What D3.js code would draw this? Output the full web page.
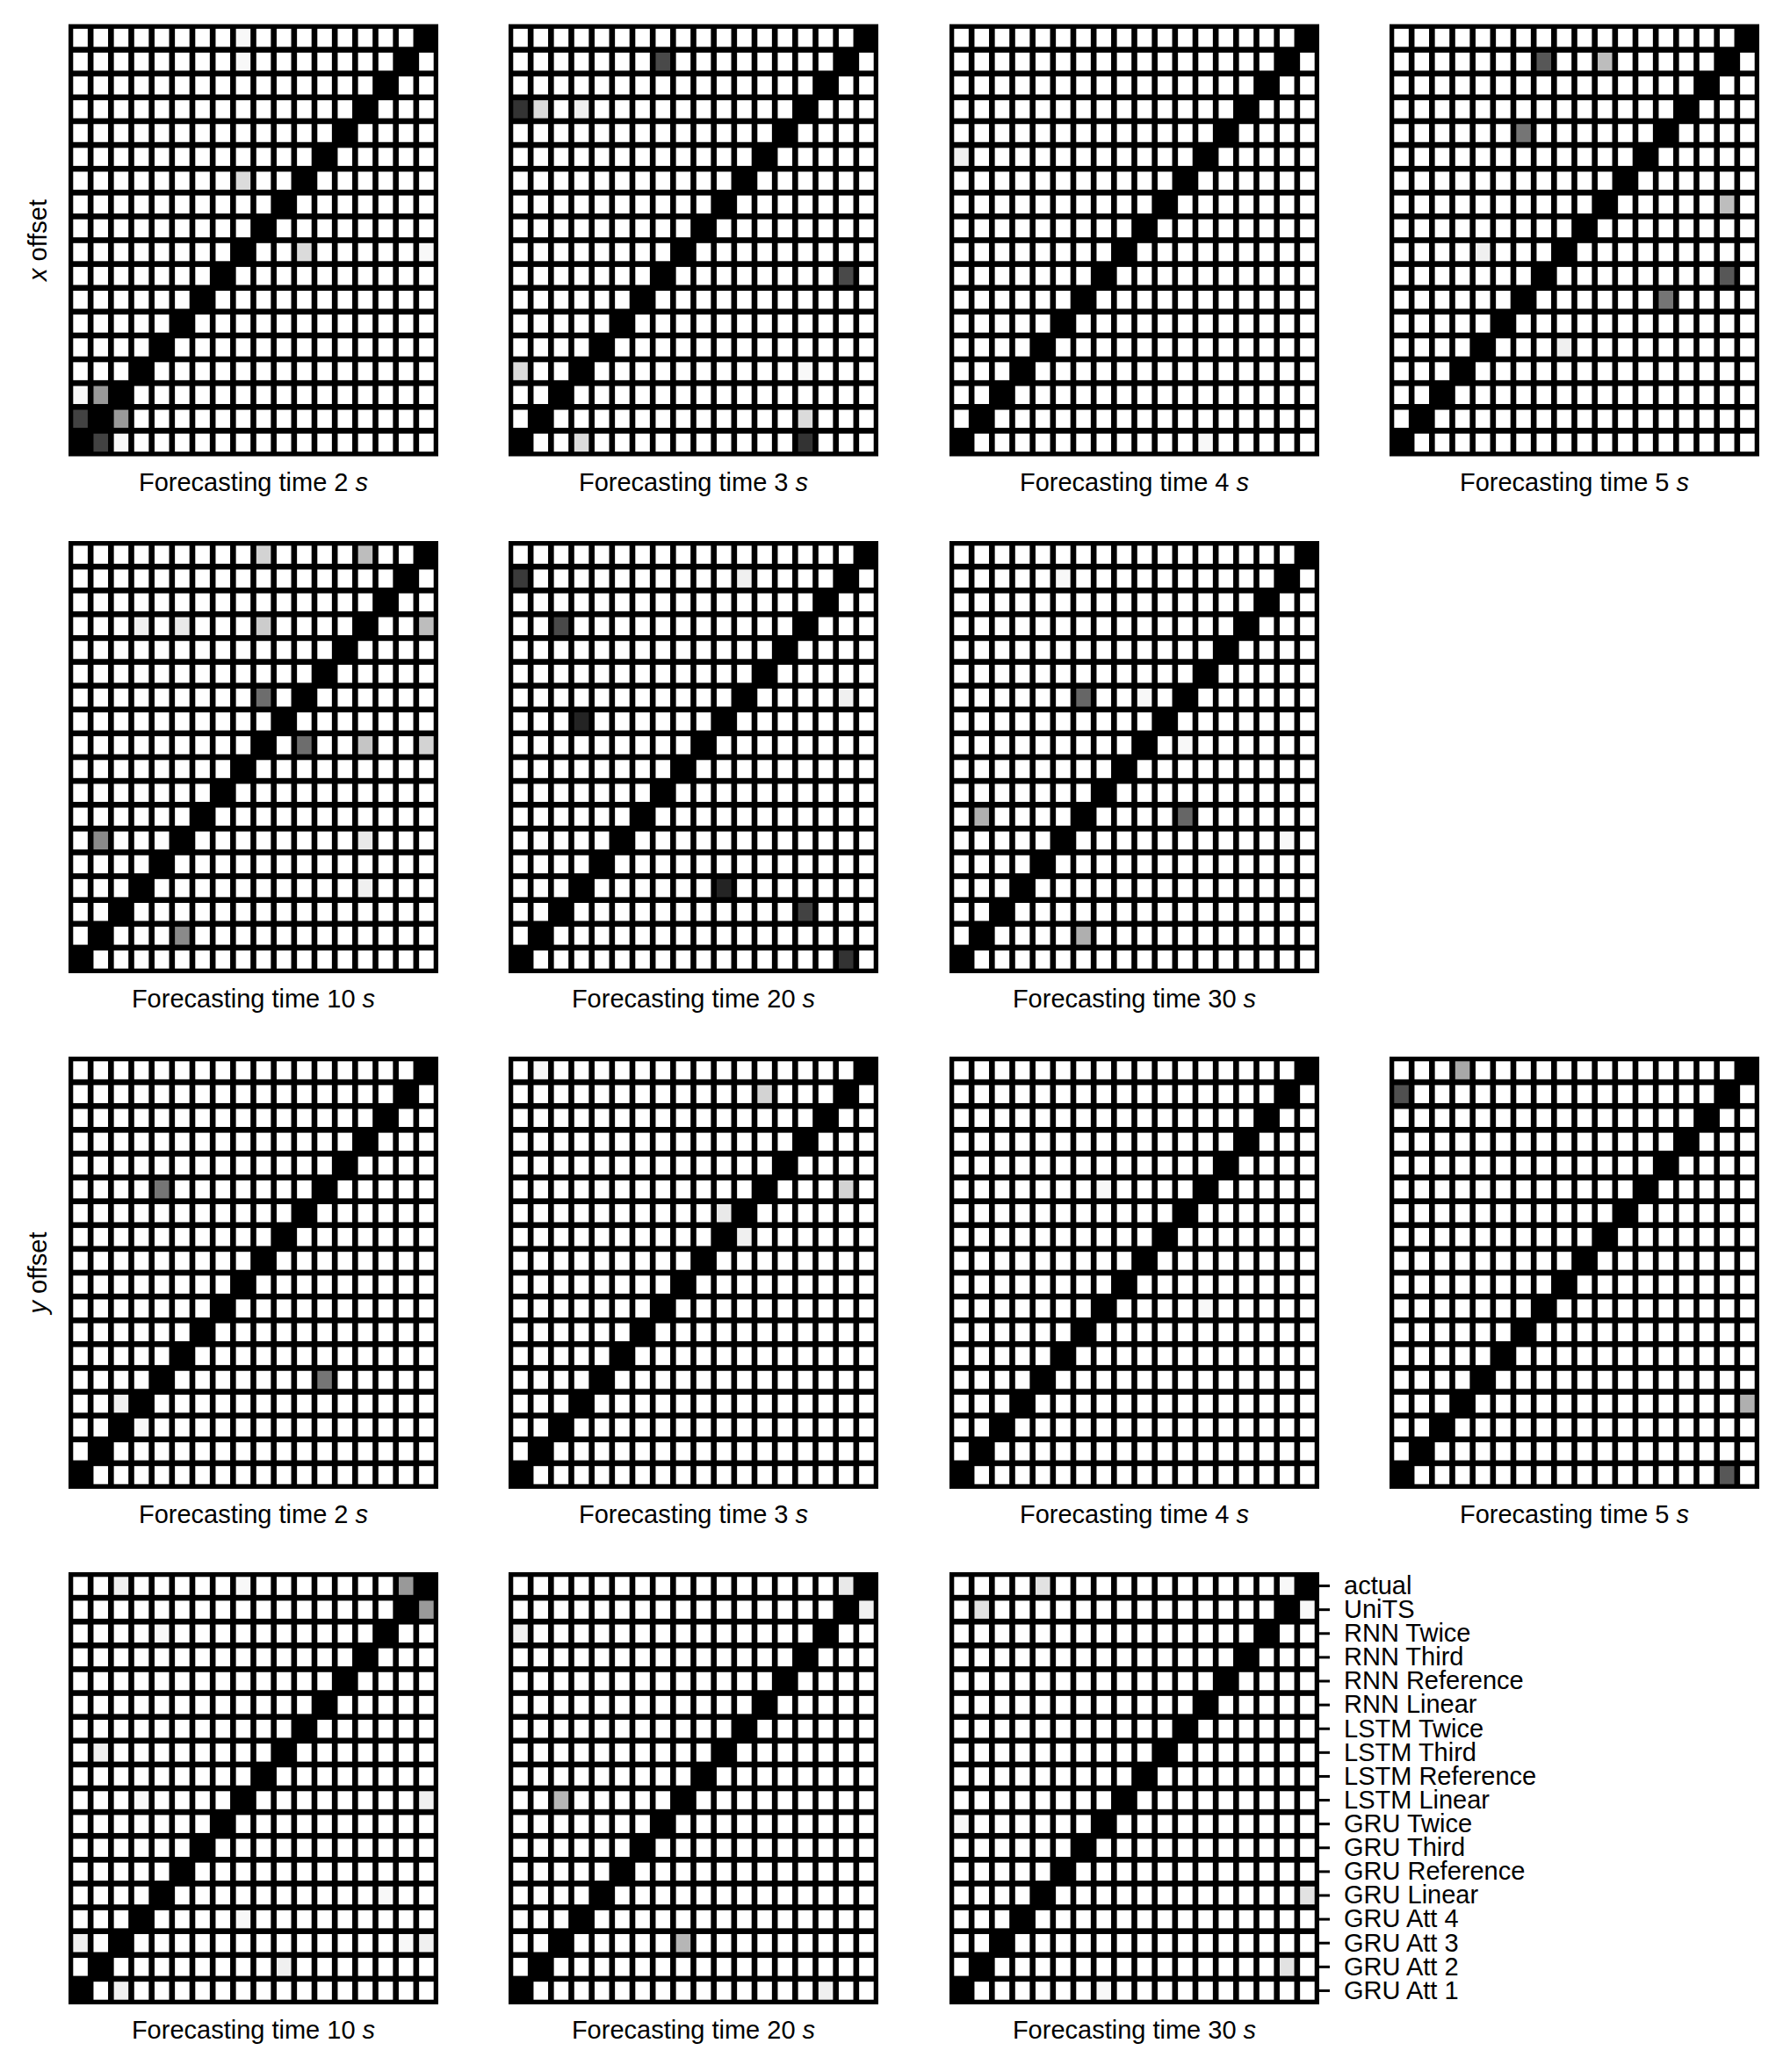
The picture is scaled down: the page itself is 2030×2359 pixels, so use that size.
<!DOCTYPE html>
<html><head><meta charset="utf-8">
<script src="https://cdn.jsdelivr.net/npm/d3@7"></script>
<style>html,body{margin:0;padding:0;background:#fff;} svg{display:block;}</style>
</head><body>
<script>
// Row labels (models), top to bottom
const modelLabels = ["actual","UniTS","RNN Twice","RNN Third","RNN Reference","RNN Linear",
  "LSTM Twice","LSTM Third","LSTM Reference","LSTM Linear","GRU Twice","GRU Third",
  "GRU Reference","GRU Linear","GRU Att 4","GRU Att 3","GRU Att 2","GRU Att 1"];
const xOffsetTimes = [2,3,4,5,10,20,30];
const yOffsetTimes = [2,3,4,5,10,20,30];

// Cell darkness, one base-36 char per cell: 0 = white ... z = black (groups of 6 columns)
const x_2s = [
"000000 001000 00000z","000000 001000 0000z0","000000 000000 000z00","000000 000000 00z000",
"000000 000000 0z0000","000000 000000 z00000","000000 00500z 000000","000000 0000z0 000000",
"000000 000z00 000000","000000 00z005 000001","000000 0z0000 000000","000000 z00000 000000",
"00000z 000000 000000","0000z0 000000 000000","000z00 000000 000000","1ez000 000000 000000",
"qze000 000000 000000","zq1000 000000 000000"];
const x_3s = [
"000000 000000 00000z","000000 0p0000 0000z0","000000 000000 000z00","s50200 000000 00z000",
"000000 000000 0z0000","000000 000000 z00000","000000 00000z 000000","000000 0000z0 000000",
"000000 000z00 000000","000000 00z000 000000","000000 0z0000 0000p0","000000 z00000 000000",
"00000z 000000 000000","0000z0 000000 000000","500z00 000000 001000","00z000 000000 000000",
"0z0000 000000 005000","z00500 000000 00s000"];
const x_4s = [
"000000 000000 00000z","000000 000000 0000z0","000000 000000 000z00","000000 000000 00z000",
"000000 000000 0z0000","200000 000000 z00000","000000 00000z 000000","000000 0000z0 000000",
"000000 000z00 000000","000000 00z000 000000","000000 0z0000 000000","000000 z00000 000000",
"00000z 000000 000000","0000z0 000000 000000","000z00 000000 000000","00z000 000000 000000",
"0z0000 000000 000000","z00000 000000 100000"];
const x_5s = [
"000000 000000 00000z","000000 0n0090 0000z0","000000 000000 000z00","000000 000000 00z000",
"000000 j00000 0z0000","000000 000000 z00000","000000 00000z 000000","000000 0000z0 000090",
"000000 000z00 000000","000020 00z000 000000","000000 0z0000 0000n0","000000 z00000 0j0000",
"00000z 000000 000000","0000z0 002000 000000","000z00 000000 000000","00z000 000000 000000",
"0z0000 000000 000000","z00000 000000 000000"];
const x_10s = [
"000000 000600 00900z","000000 000000 0000z0","000000 000000 000z00","000203 000700 00z009",
"000000 000000 0z0000","000000 000000 z00000","000000 000k0z 000000","000000 0000z0 000000",
"000000 000z0k 008006","000000 00z000 000000","000000 0z0000 000000","000000 z00000 000000",
"0g000z 000000 003000","0000z0 000000 000000","000z00 000000 002000","00z000 000000 000000",
"0z000g 000000 000000","z00000 000000 000000"];
const x_20s = [
"000000 000000 00000z","r00000 000002 0000z0","000000 000000 000z00","00p000 000000 00z000",
"000000 000000 0z0000","000000 000000 z00000","000000 00000z 000020","000u00 0000z0 000000",
"000000 000z00 000000","000000 00z000 000000","000000 0z0000 000000","000000 z00000 000000",
"00000z 000000 000000","0000z0 000000 000000","000z00 0000u0 000000","00z000 000000 00q000",
"0z0000 000000 000000","z00000 000000 0000s0"];
const x_30s = [
"000000 000000 00000z","000001 000000 0000z0","000000 000000 000z00","000000 000000 00z000",
"000000 000000 0z0000","000000 000000 z00000","000000 l0010z 000000","000000 0000z0 000000",
"000000 000z01 000000","000000 00z000 000000","000000 0z0000 000000","0b0000 z0000l 000000",
"00000z 000000 000010","0000z0 000000 000000","000z00 000000 000000","00z000 000000 000000",
"0z0000 b00000 000000","z00000 000000 000000"];

const y_2s = [
"000000 000000 00000z","000000 000000 0000z0","000000 000000 000z00","000000 000000 00z000",
"000000 000000 0z0000","0000j0 000000 z00000","000000 00000z 000000","000000 0000z0 000000",
"000000 000z00 000000","000000 00z000 000000","000000 0z0000 000000","000000 z00000 000000",
"00000z 000000 000000","0000z0 000000 j00000","002z00 000000 000000","00z100 000000 000000",
"0z0000 000000 000000","z00000 000000 000000"];
const y_3s = [
"010000 000000 00000z","000000 000000 6000z0","000000 000000 000z00","000000 000000 00z000",
"000000 000000 0z0000","000000 000000 z00060","000000 00003z 000000","000000 0000z2 000000",
"000000 000z00 000000","000000 00z000 000000","000000 0z0000 000000","000000 z00000 000000",
"00000z 000000 000000","0000z0 000000 000000","000z00 000000 000000","00z000 000000 000000",
"0z0000 000000 000000","z00000 000000 000000"];
const y_4s = [
"000000 000000 00000z","000000 000000 0000z0","000000 000000 000z00","000000 000000 00z000",
"000000 000000 0z0000","000000 010000 z00000","000000 00000z 000000","000000 0000z0 000000",
"000000 000z00 000000","000000 00z000 000000","000000 0z0000 100000","000000 z00000 000000",
"00000z 000000 000000","0000z0 000000 000000","000z00 000000 000000","00z000 000000 000000",
"0z0000 000000 000000","z00000 000000 000000"];
const y_5s = [
"000c00 000000 00000z","o00000 000000 0000z0","000000 000000 000z00","000000 000000 00z000",
"000000 000000 0z0000","000000 000000 z00000","000000 00000z 000000","000000 0000z0 000000",
"000000 000z00 000000","000000 00z000 000000","000000 0z0000 000000","000000 z00000 000000",
"00000z 000000 000000","0000z0 000000 000000","000z00 000000 00000b","00z000 000000 000000",
"0z0000 000000 000000","z00000 000000 0000n0"];
const y_10s = [
"002000 001000 0000ez","000000 000000 0000ze","000010 000000 000z00","000000 000000 00z000",
"000000 000000 0z0000","000000 000000 z00000","000000 00000z 000000","020000 0000z0 000000",
"000000 000z00 000000","000100 00z000 000002","000000 0z0000 000000","000000 z00000 000000",
"00000z 000000 000000","0000z0 000000 000100","000z00 001000 000000","20z000 000000 000012",
"0z0000 000020 000000","z02000 000000 000000"];
const y_20s = [
"000000 000000 00003z","000000 000000 0000z2","200000 000000 000z00","000000 000000 00z000",
"000000 000000 0z0000","000000 000000 z00000","000000 00000z 000000","000000 0000z0 000000",
"000000 000z00 000000","00a000 00z000 000000","000000 0z0000 000000","000000 z00000 000000",
"00000z 000000 000000","0000z0 000000 000000","000z00 000000 000000","00z000 00a000 000000",
"0z0000 000000 000000","z00000 000000 000200"];
const y_30s = [
"000040 000000 00001z","040000 000000 0000z1","000000 000000 000z00","000000 000000 00z000",
"000000 000000 0z0000","000000 000000 z00000","000000 00000z 000000","000000 0000z0 000000",
"000000 000z00 000000","000000 00z000 000000","100000 0z0000 000000","000000 z00000 000000",
"00000z 000000 000000","0000z0 000000 000004","000z00 000000 000000","00z000 000000 000000",
"0z0000 000000 000040","z00000 010000 000000"];

const xOffsetPanels = [x_2s, x_3s, x_4s, x_5s, x_10s, x_20s, x_30s];
const yOffsetPanels = [y_2s, y_3s, y_4s, y_5s, y_10s, y_20s, y_30s];

// ---------- drawing ----------
const W = 2030, H = 2359;
const FONT = "'Liberation Sans', Arial, Helvetica, sans-serif";
const svg = d3.select("body").append("svg").attr("width", W).attr("height", H)
  .style("font-family", FONT);
svg.append("rect").attr("width", W).attr("height", H).attr("fill", "#fff");

const colLeft = [78, 579, 1081, 1582];
const rowTop = [27.5, 616, 1203, 1790];
const boxW = 421, boxH = 492, edge = 2, gap = 6.6;
const idx = d3.range(18);
const shade = d3.scaleLinear().domain([0, 35]).range(["#ffffff", "#000000"]);

function parseMatrix(rows) {
  return rows.map(r => r.replace(/ /g, "").split("").map(ch => parseInt(ch, 36)));
}

function drawPanel(rows, left, top, time, withLabels) {
  const m = parseMatrix(rows);
  const g = svg.append("g");
  const x = d3.scaleBand().domain(idx).range([left + edge, left + boxW - edge]);
  const y = d3.scaleBand().domain(idx).range([top + edge, top + boxH - edge]);
  g.append("rect").attr("x", left).attr("y", top).attr("width", boxW).attr("height", boxH)
    .attr("fill", "#000");
  const cells = m.flatMap((row, r) => row.map((v, c) => ({ r, c, v })));
  g.selectAll("rect.cell").data(cells).join("rect").attr("class", "cell")
    .attr("x", d => x(d.c) + gap / 2).attr("y", d => y(d.r) + gap / 2)
    .attr("width", x.bandwidth() - gap).attr("height", y.bandwidth() - gap)
    .attr("fill", d => shade(d.v));
  const t = g.append("text").attr("x", left + boxW / 2).attr("y", top + boxH + 39)
    .attr("text-anchor", "middle").attr("font-size", 29).attr("fill", "#000");
  t.append("tspan").text(`Forecasting time ${time} `);
  t.append("tspan").attr("font-style", "italic").text("s");

  if (withLabels) {
    const yl = d3.scaleBand().domain(modelLabels).range([top + edge, top + boxH - edge]);
    const ax = g.append("g").attr("transform", `translate(${left + boxW - edge},0)`)
      .call(d3.axisRight(yl).tickSize(14).tickPadding(16));
    ax.select(".domain").remove();
    ax.selectAll("line").attr("stroke", "#000").attr("stroke-width", 3);
    ax.selectAll("text").attr("font-size", 29).attr("font-family", FONT).attr("fill", "#000");
  }
}

const slots = [[0,0],[0,1],[0,2],[0,3],[1,0],[1,1],[1,2]];
xOffsetPanels.forEach((p, i) => {
  const [r, c] = slots[i];
  drawPanel(p, colLeft[c], rowTop[r], xOffsetTimes[i], false);
});
yOffsetPanels.forEach((p, i) => {
  const [r, c] = slots[i];
  drawPanel(p, colLeft[c], rowTop[r + 2], yOffsetTimes[i], i === 6);
});

function rowLabel(name, cy) {
  const t = svg.append("text").attr("transform", `translate(53,${cy}) rotate(-90)`)
    .attr("text-anchor", "middle").attr("font-size", 29).attr("fill", "#000");
  t.append("tspan").attr("font-style", "italic").text(name);
  t.append("tspan").text(" offset");
}
rowLabel("x", rowTop[0] + boxH / 2);
rowLabel("y", rowTop[2] + boxH / 2);
</script>
</body></html>
